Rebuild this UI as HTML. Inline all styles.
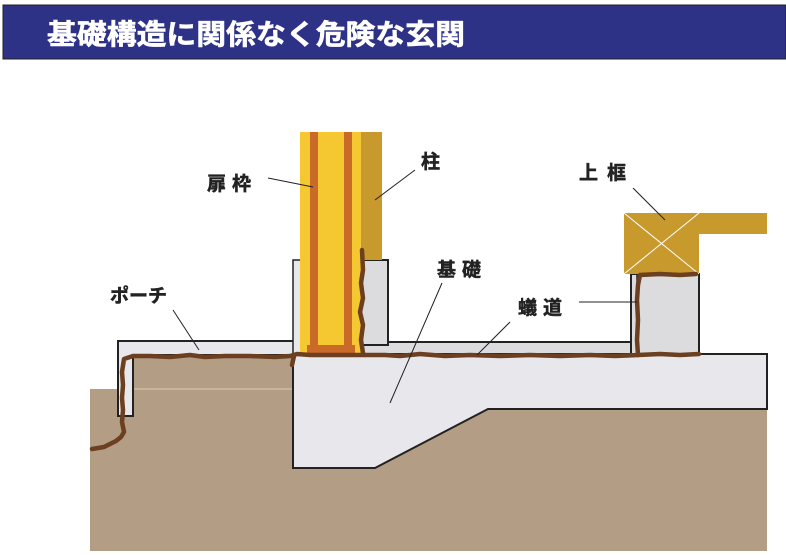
<!DOCTYPE html>
<html><head><meta charset="utf-8"><style>
html,body{margin:0;padding:0;background:#fff;width:786px;height:555px;overflow:hidden}
svg{display:block}
text{font-family:"Liberation Sans","Noto Sans CJK JP",sans-serif;font-weight:bold}
</style></head><body>
<svg width="786" height="555" viewBox="0 0 786 555" xmlns="http://www.w3.org/2000/svg">
<rect x="3" y="5" width="783" height="54" fill="#2e3287" stroke="#222" stroke-width="1"/>
<text x="47" y="44" font-size="28" fill="#fff" stroke="#fff" stroke-width="0.6" textLength="418" lengthAdjust="spacingAndGlyphs">基礎構造に関係なく危険な玄関</text>

<!-- soil -->
<rect x="90" y="389" width="677" height="162" fill="#b39d84"/>
<rect x="133" y="355" width="160" height="34" fill="#b39d84"/>
<line x1="133" y1="389" x2="293" y2="389" stroke="#d8cbb8" stroke-width="1"/>

<!-- porch -->
<path d="M118,341 H300 V355 H133 V416 H118 Z" fill="#e8e8ec" stroke="#222" stroke-width="2"/>

<!-- foundation -->
<path d="M293,354 H767 V409 H488 L375,468 H293 Z" fill="#e8e8ec" stroke="#222" stroke-width="2"/>

<!-- floor strip -->
<rect x="361" y="342" width="277" height="12" fill="#dcdcdf" stroke="#222" stroke-width="2"/>

<!-- left thin -->
<rect x="293" y="260" width="8" height="94" fill="#e8e8ec" stroke="#222" stroke-width="1.5"/>
<!-- right grey box by post -->
<rect x="361" y="260" width="27" height="85" fill="#dcdcdf" stroke="#222" stroke-width="2"/>

<!-- post -->
<rect x="361" y="132" width="21" height="128" fill="#c89a2e"/>
<rect x="300" y="132" width="61" height="221" fill="#f5c832"/>
<rect x="310" y="132" width="8" height="215" fill="#c96a28"/>
<rect x="344" y="132" width="8" height="215" fill="#c96a28"/>
<rect x="307" y="345" width="48" height="8" fill="#c96a28"/>

<!-- right box -->
<rect x="631" y="274" width="68" height="80" fill="#dcdcdf" stroke="#222" stroke-width="2"/>
<line x1="637" y1="274" x2="637" y2="342" stroke="#222" stroke-width="1.5"/>
<!-- top frame -->
<path d="M624,213 H767 V234 H699 V274 H624 Z" fill="#c89a2e"/>
<line x1="624" y1="213" x2="699" y2="274" stroke="#fff" stroke-width="1"/>
<line x1="699" y1="213" x2="624" y2="274" stroke="#fff" stroke-width="1"/>

<!-- crack line -->
<g fill="none" stroke="#6b3f1f" stroke-width="4.5" stroke-linejoin="round" stroke-linecap="round">
<path d="M92,449 L104,447 L110,444 L116,441 L121,437 L124,432 L122,422 L123,410 L122,398 L123,385 L122,372 L124,359 L133,356 L150,356 L170,357 L190,355 L205,357 L225,356 L250,356 L275,357 L290,356 L297,354 L310,355 L330,355 L345,355 L365,355 L385,355 L400,356 L420,354 L445,356 L470,355 L500,356 L530,355 L560,356 L590,355 L615,356 L638,355"/>
<path d="M294,356 L292,365"/>
<path d="M363,353 L361,340 L363,325 L360,312 L363,298 L361,283 L363,270 L362,250"/>
<path d="M638,355 L637,340 L638,320 L637,300 L638,285 L640,275 L660,274 L680,275 L696,274"/>
<path d="M638,355 L660,354 L680,355 L699,354"/>
</g>

<!-- leader lines -->
<g stroke="#222" stroke-width="1">
<line x1="268" y1="178" x2="313" y2="187"/>
<line x1="415" y1="170" x2="375" y2="200"/>
<line x1="633" y1="188" x2="665" y2="220"/>
<line x1="442" y1="283" x2="390" y2="403"/>
<line x1="579" y1="302" x2="637" y2="302"/>
<line x1="510" y1="322" x2="477" y2="355"/>
<line x1="173" y1="310" x2="199" y2="350"/>
</g>

<!-- labels -->
<g font-size="19" fill="#222" stroke="#222" stroke-width="0.5">
<text x="207" y="190" letter-spacing="6">扉枠</text>
<text x="421" y="168">柱</text>
<text x="579" y="179" letter-spacing="9">上框</text>
<text x="437" y="276" letter-spacing="6">基礎</text>
<text x="518" y="314" letter-spacing="6">蟻道</text>
<text x="110" y="302">ポーチ</text>
</g>
</svg>
</body></html>
